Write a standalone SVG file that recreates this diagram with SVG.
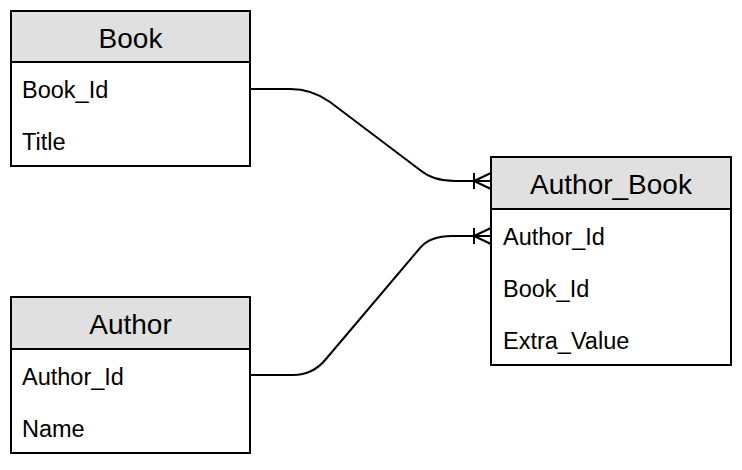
<svg xmlns="http://www.w3.org/2000/svg" width="742" height="470" viewBox="0 0 742 470">
<style>
.box{fill:#fff;stroke:#000;stroke-width:2}
.hdr{fill:#e0e0e0;stroke:#000;stroke-width:2}
.t{font-family:"Liberation Sans",Arial,sans-serif;fill:#000}
.h{font-size:28px;text-anchor:middle}
.r{font-size:23.5px}
.c{fill:none;stroke:#000;stroke-width:2}
</style>
<rect width="742" height="470" fill="#fff"/>
<g id="connectors">
<path class="c" d="M250,89 L290,89 Q312,89 330,102 L420,170 Q433,181 455,181 L491,181"/>
<path class="c" d="M474,173 V189 M474,181 L491,173 M474,181 L491,189"/>
<path class="c" d="M250,375 L293,375 Q313,375 326,359 L420,248 Q430,236 452,236 L491,236"/>
<path class="c" d="M474,228 V244 M474,236 L491,228 M474,236 L491,244"/>
</g>
<g id="book">
<rect class="box" x="11" y="11" width="239" height="155"/>
<rect class="hdr" x="11" y="11" width="239" height="51"/>
<text class="t h" x="130.5" y="48">Book</text>
<text class="t r" x="22" y="98">Book_Id</text>
<text class="t r" x="22" y="150">Title</text>
</g>
<g id="author">
<rect class="box" x="11" y="297" width="239" height="156"/>
<rect class="hdr" x="11" y="297" width="239" height="52"/>
<text class="t h" x="130.5" y="334">Author</text>
<text class="t r" x="22" y="385">Author_Id</text>
<text class="t r" x="22" y="437">Name</text>
</g>
<g id="author_book">
<rect class="box" x="491" y="157" width="240" height="208"/>
<rect class="hdr" x="491" y="157" width="240" height="52"/>
<text class="t h" x="611" y="194">Author_Book</text>
<text class="t r" x="503" y="245">Author_Id</text>
<text class="t r" x="503" y="297">Book_Id</text>
<text class="t r" x="503" y="349">Extra_Value</text>
</g>
</svg>
